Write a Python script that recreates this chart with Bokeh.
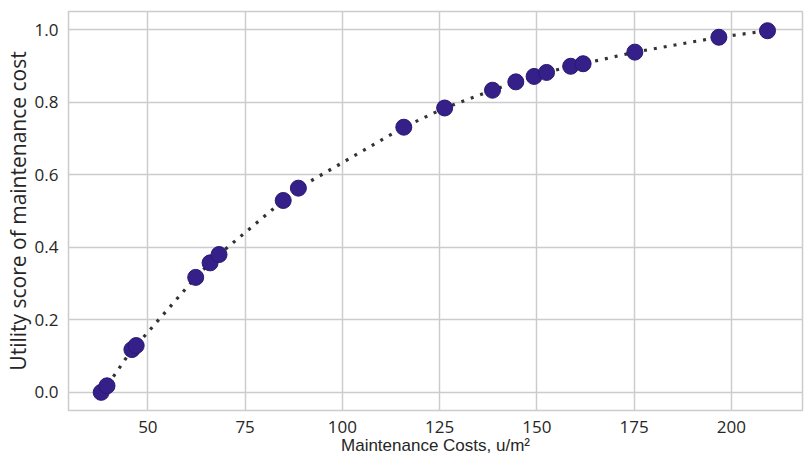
from bokeh.plotting import figure
from bokeh.models import ColumnDataSource, Range1d, FixedTicker, CustomJSTickFormatter
from bokeh.embed import file_html
from bokeh.resources import INLINE

# Data
cost = [38.0, 39.5, 45.9, 47.0, 62.3, 66.0, 68.3, 84.8, 88.7, 115.8, 126.3,
        138.6, 144.6, 149.3, 152.5, 158.7, 161.9, 175.2, 196.8, 209.3]
utility = [0.000, 0.018, 0.118, 0.129, 0.317, 0.357, 0.380, 0.529, 0.563, 0.731, 0.784,
           0.833, 0.856, 0.871, 0.882, 0.899, 0.906, 0.938, 0.979, 0.997]
x_ticks = [50, 75, 100, 125, 150, 175, 200]
y_ticks = [0.0, 0.2, 0.4, 0.6, 0.8, 1.0]

src = ColumnDataSource(dict(x=cost, y=utility))

p = figure(width=810, height=465, output_backend="svg", toolbar_location=None,
           x_range=Range1d(29.6, 218.3), y_range=Range1d(-0.05, 1.05),
           min_border_left=0, min_border_right=8, min_border_top=11, min_border_bottom=55)

p.line("x", "y", source=src, line_color="#333333", line_width=3.2,
       line_dash="3 7")
p.scatter("x", "y", source=src, size=16, fill_color="#35208a",
          line_color="#2a1870", line_width=1)

p.xaxis.ticker = FixedTicker(ticks=x_ticks)
p.yaxis.ticker = FixedTicker(ticks=y_ticks)
p.yaxis.formatter = CustomJSTickFormatter(code="return tick.toFixed(1);")

for ax in (p.xaxis[0], p.yaxis[0]):
    ax.axis_line_color = None
    ax.major_tick_line_color = None
    ax.minor_tick_line_color = None
    ax.major_tick_out = 0
    ax.major_tick_in = 0
    ax.major_label_text_font = "Open Sans"
    ax.major_label_text_font_size = "17px"
    ax.major_label_text_color = "#262626"
    ax.axis_label_text_font_style = "normal"
    ax.axis_label_text_color = "#262626"

p.yaxis.major_label_standoff = 10
p.xaxis.major_label_standoff = 10
p.yaxis.axis_label = "Utility score of maintenance cost"
p.yaxis.axis_label_text_font = "Open Sans"
p.yaxis.axis_label_text_font_size = "21px"
p.yaxis.axis_label_standoff = 0
p.xaxis.axis_label = "Maintenance Costs, u/m²"
p.xaxis.axis_label_text_font = "Liberation Sans"
p.xaxis.axis_label_text_font_size = "17px"
p.xaxis.axis_label_standoff = 0

p.xgrid.grid_line_color = "#cccccc"
p.ygrid.grid_line_color = "#cccccc"
p.xgrid.grid_line_width = 1.5
p.ygrid.grid_line_width = 1.5
p.outline_line_color = "#cccccc"
p.outline_line_width = 1.5
p.background_fill_color = "white"
p.border_fill_color = "white"

open("out.html", "w").write(file_html(p, INLINE))
